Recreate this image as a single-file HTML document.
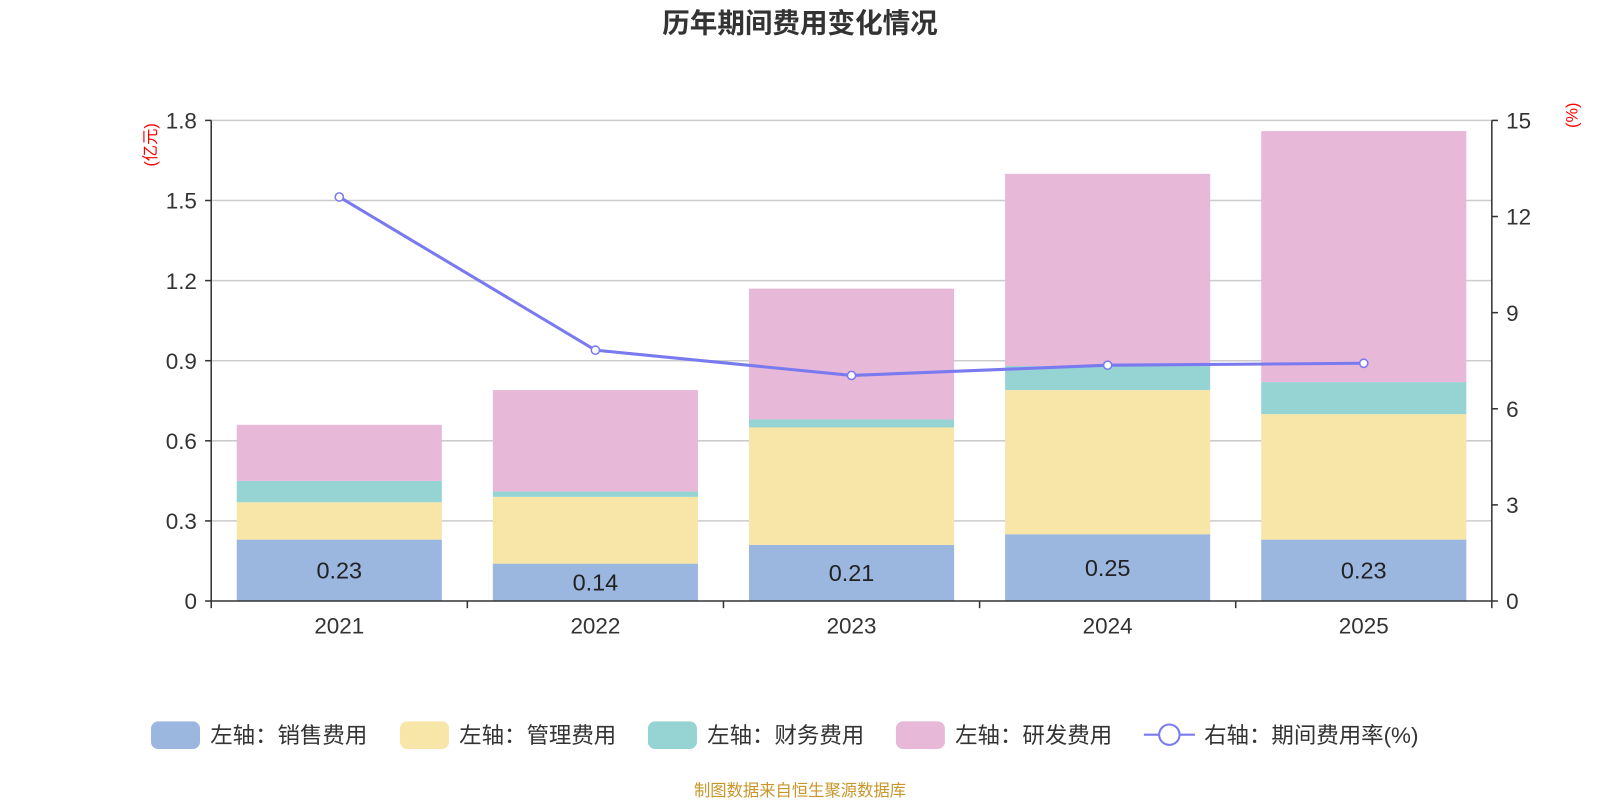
<!DOCTYPE html>
<html><head><meta charset="utf-8">
<style>
html,body{margin:0;padding:0;background:#fff;}
svg{display:block;font-family:"Liberation Sans","Noto Sans CJK SC",sans-serif;}
</style></head>
<body>
<svg id="c" width="1600" height="800" xmlns="http://www.w3.org/2000/svg"><g id="root" transform="scale(1.0204)"></g></svg>
<script>
const categories=['2021','2022','2023','2024','2025'];
const sales=[0.23,0.14,0.21,0.25,0.23];
const mgmt=[0.14,0.25,0.44,0.54,0.47];
const fin=[0.08,0.02,0.03,0.09,0.12];
const rnd=[0.21,0.38,0.49,0.72,0.94];
const rate=[12.61,7.83,7.04,7.36,7.42];
const leftTicks=['0','0.3','0.6','0.9','1.2','1.5','1.8'];
const rightTicks=['0','3','6','9','12','15'];

const svg=document.getElementById('root');
const NS='http://www.w3.org/2000/svg';
const X0=207,X1=1462,Y0=589,Y1=118;
const band=(X1-X0)/categories.length;
const yL=v=>Y0-(v/1.8)*(Y0-Y1);
const yR=v=>Y0-(v/15)*(Y0-Y1);
const xC=i=>X0+band*(i+0.5);
function mk(t,a,txt){const e=document.createElementNS(NS,t);for(const k in a)e.setAttribute(k,a[k]);if(txt!=null)e.textContent=txt;svg.appendChild(e);return e;}

let e=mk('text',{x:784,y:32,'text-anchor':'middle','font-size':27,'font-weight':'bold',fill:'#333'},'历年期间费用变化情况');



leftTicks.forEach(t=>{const v=parseFloat(t);const y=yL(v);
 if(v>0){const g=mk('line',{x1:X0,x2:X1,y1:y,y2:y,stroke:'#ccc','stroke-width':1.5});
 
 }
 mk('line',{x1:X0-6,x2:X0,y1:y,y2:y,stroke:'#333','stroke-width':1.5});
 const l=mk('text',{x:X0-14,y:y+8,'text-anchor':'end','font-size':22,fill:'#333'},t);
 
 
});
rightTicks.forEach(t=>{const y=yR(parseFloat(t));
 mk('line',{x1:X1,x2:X1+6,y1:y,y2:y,stroke:'#333','stroke-width':1.5});
 const l=mk('text',{x:X1+14,y:y+8,'font-size':22,fill:'#333'},t);
 
 
});

const series=[[sales,'#9bb7e0','销售费用'],[mgmt,'#f7e6a7','管理费用'],[fin,'#96d3d3','财务费用'],[rnd,'#e7b8d8','研发费用']];
categories.forEach((c,i)=>{
 let base=0;const bw=201;const x=xC(i)-bw/2;
 series.forEach((s,si)=>{const v=s[0][i];
  const r=mk('rect',{x:x,y:yL(base+v),width:bw,height:yL(base)-yL(base+v),fill:s[1]});
  
  
  base+=v;});
 const t=mk('text',{x:xC(i),y:(yL(0)+yL(sales[i]))/2+8,'text-anchor':'middle','font-size':23,fill:'#222'},sales[i].toFixed(2));
 
 
 const l=mk('text',{x:xC(i),y:621,'text-anchor':'middle','font-size':22,fill:'#333'},c);
 
 
});
mk('line',{x1:X0,x2:X0,y1:Y1,y2:Y0,stroke:'#333','stroke-width':1.5});
mk('line',{x1:X1,x2:X1,y1:Y1,y2:Y0,stroke:'#333','stroke-width':1.5});
mk('line',{x1:X0,x2:X1,y1:Y0,y2:Y0,stroke:'#333','stroke-width':1.5});
for(let i=0;i<=categories.length;i++){mk('line',{x1:X0+band*i,x2:X0+band*i,y1:Y0,y2:Y0+7,stroke:'#333','stroke-width':1.5});}

const pl=mk('polyline',{points:rate.map((v,i)=>xC(i)+','+yR(v)).join(' '),fill:'none',stroke:'#7a7af0','stroke-width':3});


rate.forEach((v,i)=>{const p=mk('circle',{cx:xC(i),cy:yR(v),r:4,fill:'#fff',stroke:'#7a7af0','stroke-width':1.5});
 
 });

e=mk('text',{transform:'translate(153,142) rotate(-90)','text-anchor':'middle','font-size':16,fill:'#f00'},'(亿元)');


e=mk('text',{transform:'translate(1546,113) rotate(-90)','text-anchor':'middle','font-size':16,fill:'#f00'},'(%)');



const leg=[[148,'#9bb7e0','左轴：销售费用'],[392,'#f7e6a7','左轴：管理费用'],[635,'#96d3d3','左轴：财务费用'],[878,'#e7b8d8','左轴：研发费用']];
leg.forEach(l=>{const r=mk('rect',{x:l[0],y:707,width:48,height:27,rx:7,fill:l[1]});
 
 
 const t=mk('text',{x:l[0]+58,y:728,'font-size':22,fill:'#333'},l[2]);
 
 });
mk('line',{x1:1121,x2:1171,y1:720,y2:720,stroke:'#7a7af0','stroke-width':2});
mk('circle',{cx:1146,cy:720,r:10,fill:'#fff',stroke:'#7a7af0','stroke-width':2});
e=mk('text',{x:1180,y:728,'font-size':22,fill:'#333'},'右轴：期间费用率(%)');



e=mk('text',{x:784,y:780,'text-anchor':'middle','font-size':16,fill:'#c8962a'},'制图数据来自恒生聚源数据库');


</script>
</body></html>
